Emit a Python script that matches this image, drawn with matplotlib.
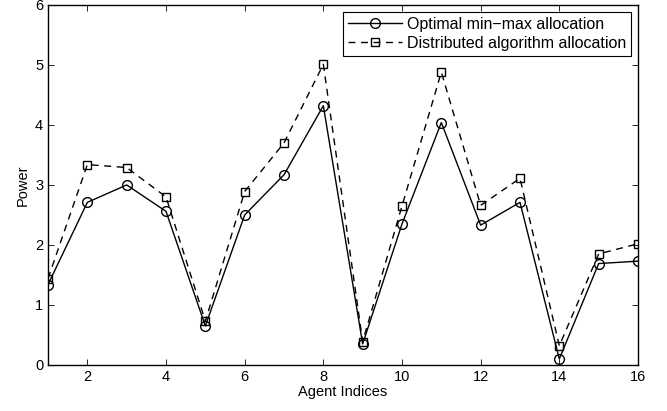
import matplotlib
matplotlib.use("Agg")
import matplotlib.pyplot as plt

plt.rcParams['font.family'] = ['Liberation Sans', 'DejaVu Sans']

# agent indices and power values
agents = list(range(1, 17))
optimal = [1.34, 2.71, 3.00, 2.56, 0.65, 2.50, 3.17, 4.32,
           0.35, 2.35, 4.04, 2.33, 2.71, 0.10, 1.69, 1.73]
distributed = [1.44, 3.34, 3.29, 2.80, 0.73, 2.89, 3.70, 5.01,
               0.39, 2.65, 4.88, 2.66, 3.11, 0.32, 1.85, 2.02]
xticks = [2, 4, 6, 8, 10, 12, 14, 16]

fig = plt.figure(figsize=(6.67, 4.11), dpi=100)
ax = fig.add_axes([0.072, 0.112, 0.8845, 0.876])

ax.plot(agents, optimal, '-', color='black', linewidth=1.0,
        marker='o', markersize=7, markerfacecolor='none',
        markeredgewidth=1.0, label='Optimal min\u2212max allocation')
ax.plot(agents, distributed, '--', color='black', linewidth=1.0,
        dashes=(5, 4), marker='s', markersize=5.5, markerfacecolor='none',
        markeredgewidth=1.0, label='Distributed algorithm allocation')

ax.set_xlim(1, 16)
ax.set_ylim(0, 6)
ax.set_xticks(xticks)
ax.set_yticks(range(0, 7))
ax.tick_params(direction='in', top=True, right=True, labelsize=10.5,
               length=4, width=0.6)
for s in ax.spines.values():
    s.set_linewidth(1.0)

ax.set_xlabel('Agent Indices', fontsize=10.5, labelpad=1)
ax.set_ylabel('Power', fontsize=10.5, labelpad=4)

leg = ax.legend(loc='upper right', fontsize=11.5, fancybox=False,
                edgecolor='black', framealpha=1, borderaxespad=0.45,
                handlelength=3.4, handletextpad=0.3, borderpad=0.3,
                labelspacing=0.25)
leg.get_frame().set_linewidth(0.8)

fig.savefig('out.png', dpi=100)
